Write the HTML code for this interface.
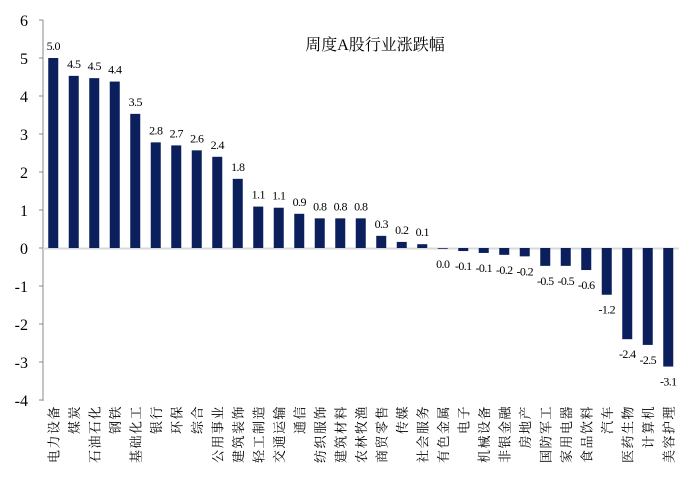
<!DOCTYPE html>
<html><head><meta charset="utf-8"><style>
body{margin:0;background:#fff;}
svg{display:block;font-family:"Liberation Serif","Noto Serif CJK SC",serif;}
</style></head><body>
<svg width="700" height="484" xmlns="http://www.w3.org/2000/svg">
<rect width="700" height="484" fill="#fff"/>
<text x="375" y="50" font-size="16" text-anchor="middle" fill="#000">周度A股行业涨跌幅</text>
<g id="axis"></g>
<script>
const vals=[5.0,4.53,4.47,4.38,3.53,2.78,2.7,2.57,2.4,1.82,1.09,1.06,0.9,0.78,0.78,0.78,0.32,0.16,0.1,-0.02,-0.08,-0.13,-0.18,-0.22,-0.47,-0.47,-0.58,-1.23,-2.4,-2.55,-3.12];
const labs=["5.0","4.5","4.5","4.4","3.5","2.8","2.7","2.6","2.4","1.8","1.1","1.1","0.9","0.8","0.8","0.8","0.3","0.2","0.1","0.0","-0.1","-0.1","-0.2","-0.2","-0.5","-0.5","-0.6","-1.2","-2.4","-2.5","-3.1"];
const cats=["电力设备","煤炭","石油石化","钢铁","基础化工","银行","环保","综合","公用事业","建筑装饰","轻工制造","交通运输","通信","纺织服饰","建筑材料","农林牧渔","商贸零售","传媒","社会服务","有色金属","电子","机械设备","非银金融","房地产","国防军工","家用电器","食品饮料","汽车","医药生物","计算机","美容护理"];
const ns="http://www.w3.org/2000/svg",g=document.getElementById("axis");
function el(t,a,txt){const e=document.createElementNS(ns,t);for(const k in a)e.setAttribute(k,a[k]);if(txt!==undefined)e.textContent=txt;g.appendChild(e);return e;}
const y0=248,u=38,x0=43,cw=20.5;
el("line",{x1:x0,y1:20,x2:x0,y2:401,stroke:"#888","stroke-width":1});
for(let v=6;v>=-4;v--){const y=y0-v*u;el("line",{x1:x0-4,y1:y,x2:x0,y2:y,stroke:"#888"});el("text",{x:28,y:y+6,"font-size":16,"text-anchor":"end"},String(v));}
el("line",{x1:x0,y1:y0+0.5,x2:679,y2:y0+0.5,stroke:"#d9d9d9","stroke-width":2});
vals.forEach((v,i)=>{const cx=x0+cw*(i+0.5);const h=Math.abs(v)*u;
 const y=v>=0?y0-h:y0;
 el("rect",{x:cx-5,y:y,width:10,height:Math.max(h,0.5),fill:"#0b1f5c"});
 const ly=v>=0?y0-h-8:y0+h+19;
 el("text",{x:cx,y:ly,"font-size":12,"text-anchor":"middle","letter-spacing":"-0.6"},labs[i]);
 el("text",{x:0,y:0,"font-size":13,"text-anchor":"end","letter-spacing":"1.5",transform:`translate(${cx+5},405) rotate(-90)`},cats[i]);
});
</script>
</svg>
</body></html>
